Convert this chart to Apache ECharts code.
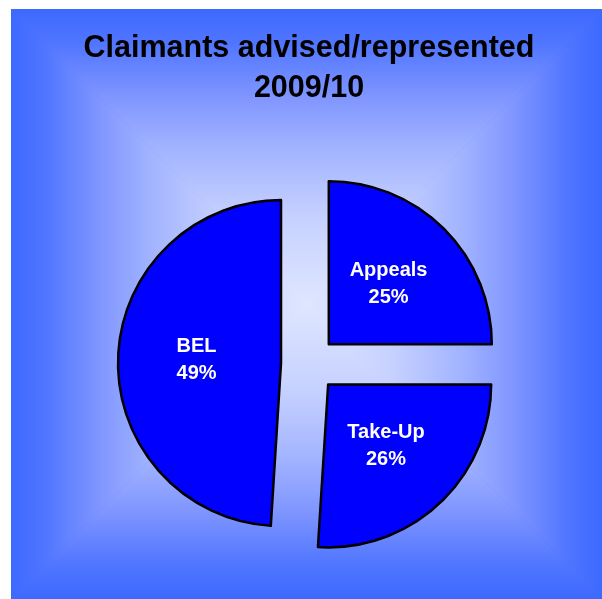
<!DOCTYPE html>
<html>
<head>
<meta charset="utf-8">
<style>
  html, body { margin: 0; padding: 0; background: #ffffff; }
  #chart { width: 602px; height: 599px; }
</style>
<script src="https://cdn.jsdelivr.net/npm/echarts@6/dist/echarts.min.js"></script>
</head>
<body>
<div id="chart"></div>
<script>
// Share of claimants advised/represented, by service, 2009/10 (percent)
const categories = ['Appeals', 'Take-Up', 'BEL'];
const shares = [25, 26, 49];
const titleLines = ['Claimants advised/represented', '2009/10'];

const FONT = '"Liberation Sans", Arial, Helvetica, sans-serif';
const SLICE_BLUE = '#0000FF';

// Pie geometry: every slice is pulled out from the common centre.
const PIE_CX = 309;
const PIE_CY = 364;
const PIE_R = 163;
const EXPLODE = 28;
const START_ANGLE = 90;

// Panel behind the pie: a rectangular "from centre" gradient made of four
// triangles, each shading from its outer edge in towards the middle.
const panel = { x0: 11, y0: 9, x1: 602, y1: 599 };
const pcx = (panel.x0 + panel.x1) / 2;
const pcy = (panel.y0 + panel.y1) / 2;
const edgeStops = [
  { offset: 0, color: '#3C69FF' },
  { offset: 0.12, color: '#5176FF' },
  { offset: 0.30, color: '#8096FF' },
  { offset: 0.48, color: '#A3B4FF' },
  { offset: 0.70, color: '#C5D0FF' },
  { offset: 1, color: '#DFE6FF' }
];
function towardCentre(x, y, x2, y2) {
  return { type: 'linear', x: x, y: y, x2: x2, y2: y2, global: true, colorStops: edgeStops };
}
const panelPieces = [
  { points: [[panel.x0, panel.y0], [panel.x1, panel.y0], [pcx, pcy]], fill: towardCentre(0, panel.y0, 0, pcy) },
  { points: [[panel.x0, panel.y1], [panel.x1, panel.y1], [pcx, pcy]], fill: towardCentre(0, panel.y1, 0, pcy) },
  { points: [[panel.x0, panel.y0], [panel.x0, panel.y1], [pcx, pcy]], fill: towardCentre(panel.x0, 0, pcx, 0) },
  { points: [[panel.x1, panel.y0], [panel.x1, panel.y1], [pcx, pcy]], fill: towardCentre(panel.x1, 0, pcx, 0) }
];

const panelGraphics = [
  {
    type: 'rect',
    z: -10,
    silent: true,
    shape: { x: panel.x0, y: panel.y0, width: panel.x1 - panel.x0, height: panel.y1 - panel.y0 },
    style: {
      fill: {
        type: 'radial', x: 0.5, y: 0.5, r: 0.6,
        colorStops: [{ offset: 0, color: '#DFE6FF' }, { offset: 1, color: '#3C69FF' }]
      }
    }
  }
].concat(panelPieces.map(function (p) {
  return { type: 'polygon', z: -9, silent: true, shape: { points: p.points }, style: { fill: p.fill } };
}));

const sliceStyle = { color: SLICE_BLUE, borderColor: '#000000', borderWidth: 2.5 };
const hiddenStyle = { color: 'rgba(0,0,0,0)', borderWidth: 0 };
const sliceLabel = {
  show: true,
  position: 'inside',
  formatter: '{b}\n{d}%',
  color: '#ffffff',
  fontFamily: FONT,
  fontWeight: 'bold',
  fontSize: 20,
  lineHeight: 27
};

// One pie series per slice: each draws only its own slice, with its centre
// moved outward along that slice's middle angle.
const total = shares.reduce(function (a, b) { return a + b; }, 0);
let cumulative = 0;
const pieSeries = categories.map(function (name, i) {
  const a0 = START_ANGLE - 360 * cumulative / total;
  const a1 = a0 - 360 * shares[i] / total;
  cumulative += shares[i];
  const mid = (a0 + a1) / 2 * Math.PI / 180;
  return {
    type: 'pie',
    silent: true,
    center: [PIE_CX + EXPLODE * Math.cos(mid), PIE_CY - EXPLODE * Math.sin(mid)],
    radius: PIE_R,
    startAngle: START_ANGLE,
    clockwise: true,
    percentPrecision: 0,
    avoidLabelOverlap: false,
    labelLine: { show: false },
    emphasis: { disabled: true },
    data: categories.map(function (n, j) {
      const own = j === i;
      return {
        name: n,
        value: shares[j],
        itemStyle: own ? sliceStyle : hiddenStyle,
        label: own ? sliceLabel : { show: false }
      };
    })
  };
});

const chart = echarts.init(document.getElementById('chart'), null, { renderer: 'canvas' });
chart.setOption({
  animation: false,
  backgroundColor: '#ffffff',
  title: {
    text: titleLines.join('\n'),
    left: 309,
    top: 29,
    padding: 0,
    textAlign: 'center',
    textStyle: {
      fontFamily: FONT,
      fontWeight: 'bold',
      fontSize: 30.5,
      lineHeight: 39.5,
      color: '#000000'
    }
  },
  graphic: { elements: panelGraphics },
  series: pieSeries
});
</script>
</body>
</html>
